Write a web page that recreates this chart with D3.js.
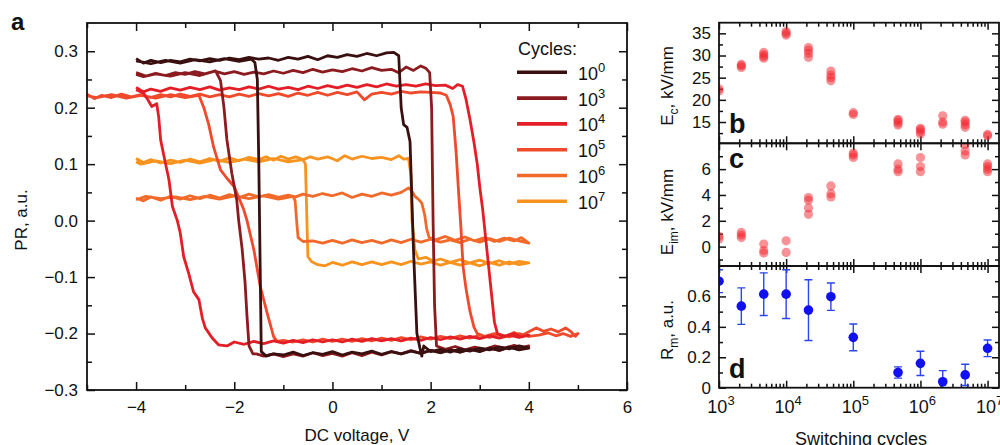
<!DOCTYPE html>
<html>
<head>
<meta charset="utf-8">
<script src="https://cdn.jsdelivr.net/npm/d3@7"></script>
<style>
body { margin: 0; background: #fff; }
text { font-family: "Liberation Sans", Arial, Helvetica, sans-serif; fill: #111; }
</style>
</head>
<body>
<svg id="chart" width="1000" height="445"></svg>
<script>
// ---- panel a: PR loops, [DC voltage, PR] ----
var loop1e0 = [[-4,0.287],[-3.85,0.279],[-3.7,0.284],[-3.5,0.28],[-3.3,0.284],[-3.1,0.281],[-2.9,0.286],[-2.7,0.283],[-2.5,0.287],[-2.3,0.284],[-2.1,0.288],[-1.9,0.285],[-1.7,0.289],[-1.5,0.286],[-1.3,0.288],[-1.1,0.284],[-0.9,0.289],[-0.7,0.286],[-0.5,0.291],[-0.3,0.285],[-0.1,0.292],[0.1,0.289],[0.3,0.294],[0.5,0.291],[0.7,0.296],[0.9,0.292],[1.1,0.297],[1.25,0.298],[1.35,0.292],
  [1.4,0.2],[1.45,0.17],[1.52,0.165],[1.58,0.14],[1.65,-0.05],[1.72,-0.2],[1.78,-0.225],[1.82,-0.24],[1.86,-0.222],
  [2.0,-0.232],[2.2,-0.228],[2.4,-0.233],[2.6,-0.227],[2.8,-0.231],[3.0,-0.226],[3.2,-0.229],[3.4,-0.224],[3.6,-0.227],[3.8,-0.222],[4,-0.226],
  [3.8,-0.229],[3.6,-0.224],[3.4,-0.23],[3.2,-0.226],[3.0,-0.232],[2.8,-0.228],[2.6,-0.233],[2.4,-0.229],[2.2,-0.234],[2.0,-0.23],[1.8,-0.235],[1.6,-0.231],[1.4,-0.236],[1.2,-0.232],[1.0,-0.237],[0.8,-0.231],[0.6,-0.236],[0.4,-0.233],[0.2,-0.238],[0.0,-0.232],[-0.2,-0.237],[-0.4,-0.234],[-0.6,-0.239],[-0.8,-0.233],[-1.0,-0.238],[-1.2,-0.236],[-1.35,-0.24],[-1.45,-0.232],
  [-1.47,-0.1],[-1.5,0.1],[-1.53,0.25],[-1.58,0.28],[-1.65,0.286],
  [-1.9,0.282],[-2.2,0.287],[-2.5,0.281],[-2.8,0.285],[-3.1,0.279],[-3.4,0.284],[-3.7,0.278],[-4,0.283]];

var loop1e3 = [[-4,0.262],[-3.8,0.256],[-3.6,0.261],[-3.4,0.257],[-3.2,0.262],[-3.0,0.259],[-2.8,0.264],[-2.6,0.26],[-2.4,0.265],[-2.2,0.26],[-2.0,0.264],[-1.8,0.259],[-1.6,0.263],[-1.4,0.26],[-1.2,0.265],[-1.0,0.261],[-0.8,0.266],[-0.6,0.262],[-0.4,0.268],[-0.2,0.263],[0,0.267],[0.2,0.264],[0.4,0.269],[0.6,0.265],[0.8,0.271],[1.0,0.266],[1.2,0.268],[1.35,0.262],[1.5,0.272],[1.65,0.266],[1.8,0.274],[1.9,0.27],[1.98,0.262],
  [2.02,0.2],[2.05,0.0],[2.08,-0.15],[2.12,-0.222],
  [2.3,-0.228],[2.5,-0.223],[2.7,-0.229],[2.9,-0.224],[3.1,-0.228],[3.3,-0.222],[3.5,-0.226],[3.7,-0.221],[3.85,-0.225],[4,-0.222],
  [3.8,-0.228],[3.6,-0.224],[3.4,-0.23],[3.2,-0.226],[3.0,-0.231],[2.8,-0.227],[2.6,-0.233],[2.4,-0.229],[2.2,-0.234],[2.0,-0.23],[1.8,-0.235],[1.6,-0.23],[1.4,-0.236],[1.2,-0.232],[1.0,-0.238],[0.8,-0.233],[0.6,-0.239],[0.4,-0.234],[0.2,-0.24],[0,-0.235],[-0.2,-0.239],[-0.4,-0.234],[-0.6,-0.24],[-0.8,-0.236],[-1.0,-0.241],[-1.2,-0.236],[-1.4,-0.24],[-1.55,-0.236],[-1.62,-0.236],
  [-1.7,-0.222],[-1.74,-0.17],[-1.78,-0.11],[-1.84,-0.05],[-1.91,0.0],[-1.95,0.037],[-2.05,0.084],[-2.15,0.143],[-2.21,0.2],[-2.28,0.248],[-2.38,0.265],
  [-2.7,0.257],[-3.0,0.262],[-3.3,0.256],[-3.6,0.26],[-3.85,0.255],[-4,0.259]];

var loop1e4 = [[-4,0.236],[-3.85,0.228],[-3.7,0.233],[-3.5,0.229],[-3.3,0.235],[-3.1,0.231],[-2.9,0.236],[-2.7,0.232],[-2.5,0.237],[-2.3,0.231],[-2.1,0.235],[-1.9,0.232],[-1.7,0.237],[-1.5,0.233],[-1.3,0.238],[-1.1,0.233],[-0.9,0.236],[-0.7,0.232],[-0.5,0.238],[-0.3,0.234],[-0.1,0.239],[0.1,0.235],[0.3,0.24],[0.5,0.236],[0.7,0.241],[0.9,0.237],[1.1,0.242],[1.3,0.238],[1.5,0.241],[1.7,0.238],[1.9,0.242],[2.1,0.239],[2.3,0.24],[2.45,0.234],[2.55,0.241],[2.65,0.238],
  [2.72,0.215],[2.8,0.18],[2.88,0.14],[2.95,0.1],[3.0,0.06],[3.06,0.02],[3.12,-0.03],[3.18,-0.08],[3.24,-0.13],[3.3,-0.18],[3.36,-0.2],
  [3.5,-0.205],[3.7,-0.2],[3.85,-0.206],[4,-0.203],
  [3.8,-0.207],[3.6,-0.203],[3.4,-0.208],[3.2,-0.204],[3.0,-0.209],[2.8,-0.205],[2.6,-0.21],[2.4,-0.206],[2.2,-0.211],[2.0,-0.207],[1.8,-0.212],[1.6,-0.208],[1.4,-0.213],[1.2,-0.209],[1.0,-0.213],[0.8,-0.209],[0.6,-0.214],[0.4,-0.21],[0.2,-0.215],[0,-0.211],[-0.2,-0.215],[-0.4,-0.211],[-0.6,-0.216],[-0.8,-0.212],[-1.0,-0.217],[-1.2,-0.213],[-1.4,-0.218],[-1.6,-0.214],[-1.8,-0.219],[-2.0,-0.215],[-2.15,-0.222],[-2.32,-0.22],
  [-2.45,-0.208],[-2.59,-0.19],[-2.65,-0.173],[-2.72,-0.14],[-2.83,-0.126],[-2.93,-0.093],[-3.03,-0.064],[-3.1,-0.022],[-3.16,0.0],[-3.26,0.025],[-3.33,0.072],[-3.43,0.113],[-3.5,0.143],[-3.54,0.184],[-3.58,0.207],[-3.68,0.202],[-3.76,0.214],[-3.85,0.226],[-4,0.232]];

var loop1e5 = [[-5,0.224],[-4.85,0.216],[-4.7,0.222],[-4.5,0.218],[-4.3,0.224],[-4.1,0.219],[-3.9,0.223],[-3.7,0.218],[-3.5,0.223],[-3.3,0.219],[-3.1,0.224],[-2.9,0.22],[-2.7,0.224],[-2.5,0.219],[-2.3,0.223],[-2.1,0.219],[-1.9,0.224],[-1.7,0.22],[-1.5,0.225],[-1.3,0.221],[-1.1,0.225],[-0.9,0.22],[-0.7,0.226],[-0.5,0.222],[-0.3,0.227],[-0.1,0.222],[0.1,0.227],[0.3,0.223],[0.5,0.228],[0.65,0.214],[0.8,0.224],[1.0,0.227],[1.2,0.224],[1.4,0.229],[1.6,0.226],[1.8,0.228],[2.0,0.227],[2.2,0.226],[2.32,0.222],
  [2.4,0.205],[2.46,0.184],[2.52,0.12],[2.57,0.05],[2.62,-0.017],[2.66,-0.081],[2.72,-0.12],[2.8,-0.16],[2.88,-0.188],[2.95,-0.2],
  [3.1,-0.205],[3.3,-0.2],[3.5,-0.206],[3.7,-0.198],[3.85,-0.204],[4.0,-0.197],[4.15,-0.19],[4.3,-0.196],[4.45,-0.192],[4.6,-0.197],[4.75,-0.19],[4.85,-0.196],[4.95,-0.205],[5.0,-0.2],
  [4.85,-0.205],[4.7,-0.2],[4.55,-0.204],[4.4,-0.199],[4.2,-0.203],[4.0,-0.205],[3.8,-0.2],[3.6,-0.206],[3.4,-0.202],[3.2,-0.207],[3.0,-0.203],[2.8,-0.208],[2.6,-0.204],[2.4,-0.209],[2.2,-0.205],[2.0,-0.21],[1.8,-0.206],[1.6,-0.211],[1.4,-0.207],[1.2,-0.212],[1.0,-0.208],[0.8,-0.213],[0.6,-0.209],[0.4,-0.214],[0.2,-0.21],[0,-0.214],[-0.2,-0.21],[-0.4,-0.215],[-0.6,-0.211],[-0.8,-0.215],[-1.0,-0.212],[-1.13,-0.214],
  [-1.2,-0.205],[-1.33,-0.164],[-1.47,-0.117],[-1.6,-0.052],[-1.74,0.0],[-1.81,0.02],[-2.0,0.06],[-2.15,0.075],[-2.28,0.09],[-2.42,0.13],[-2.52,0.17],[-2.62,0.2],[-2.72,0.222],
  [-3.0,0.218],[-3.3,0.223],[-3.6,0.217],[-3.9,0.222],[-4.2,0.217],[-4.5,0.223],[-4.8,0.218],[-5,0.221]];

var loop1e6 = [[-4,0.04],[-3.85,0.035],[-3.7,0.042],[-3.5,0.036],[-3.3,0.043],[-3.1,0.038],[-2.9,0.044],[-2.7,0.039],[-2.5,0.045],[-2.3,0.04],[-2.1,0.046],[-1.9,0.041],[-1.7,0.047],[-1.5,0.042],[-1.3,0.046],[-1.1,0.041],[-0.9,0.045],[-0.75,0.042],[-0.6,0.047],[-0.4,0.043],[-0.2,0.048],[0,0.044],[0.2,0.049],[0.4,0.041],[0.6,0.047],[0.8,0.043],[1.0,0.049],[1.2,0.045],[1.4,0.05],[1.55,0.058],[1.62,0.052],[1.68,0.043],[1.75,0.038],[1.82,0.031],[1.88,0.01],[1.92,-0.015],[1.97,-0.03],
  [2.1,-0.034],[2.3,-0.028],[2.5,-0.035],[2.7,-0.029],[2.9,-0.036],[3.1,-0.03],[3.3,-0.037],[3.5,-0.031],[3.7,-0.036],[3.85,-0.03],[4,-0.04],
  [3.8,-0.036],[3.6,-0.031],[3.4,-0.037],[3.2,-0.032],[3.0,-0.038],[2.8,-0.033],[2.6,-0.039],[2.4,-0.034],[2.2,-0.038],[2.0,-0.033],[1.8,-0.038],[1.6,-0.033],[1.4,-0.039],[1.2,-0.034],[1.0,-0.04],[0.8,-0.035],[0.6,-0.039],[0.4,-0.034],[0.2,-0.04],[0,-0.035],[-0.2,-0.04],[-0.4,-0.036],[-0.6,-0.037],[-0.7,-0.03],
  [-0.73,0.0],[-0.76,0.035],[-0.8,0.043],
  [-1.1,0.038],[-1.4,0.044],[-1.7,0.039],[-2.0,0.044],[-2.3,0.038],[-2.6,0.043],[-2.9,0.037],[-3.2,0.042],[-3.5,0.039],[-3.8,0.043],[-4,0.037]];

var loop1e7 = [[-4,0.11],[-3.85,0.103],[-3.7,0.108],[-3.5,0.102],[-3.3,0.107],[-3.1,0.103],[-2.9,0.109],[-2.7,0.104],[-2.5,0.11],[-2.3,0.105],[-2.1,0.111],[-1.9,0.106],[-1.7,0.112],[-1.5,0.108],[-1.35,0.113],[-1.2,0.107],[-1.05,0.114],[-0.9,0.109],[-0.75,0.113],[-0.6,0.108],[-0.45,0.113],[-0.3,0.109],[-0.1,0.113],[0.1,0.106],[0.25,0.115],[0.4,0.109],[0.6,0.114],[0.8,0.11],[1.0,0.112],[1.2,0.108],[1.35,0.115],[1.45,0.109],[1.55,0.11],
  [1.6,0.08],[1.62,0.0],[1.65,-0.025],[1.68,-0.052],[1.75,-0.068],
  [1.9,-0.065],[2.05,-0.072],[2.2,-0.068],[2.4,-0.074],[2.6,-0.069],[2.8,-0.075],[3.0,-0.07],[3.2,-0.076],[3.4,-0.071],[3.6,-0.077],[3.8,-0.072],[4,-0.075],
  [3.8,-0.078],[3.6,-0.073],[3.4,-0.079],[3.2,-0.074],[3.0,-0.08],[2.8,-0.075],[2.6,-0.079],[2.4,-0.074],[2.2,-0.079],[2.0,-0.073],[1.8,-0.077],[1.6,-0.072],[1.4,-0.078],[1.2,-0.073],[1.0,-0.078],[0.8,-0.073],[0.6,-0.078],[0.4,-0.073],[0.2,-0.079],[0,-0.074],[-0.15,-0.08],[-0.3,-0.078],[-0.42,-0.073],[-0.5,-0.064],
  [-0.52,0.0],[-0.55,0.1],[-0.6,0.108],
  [-0.9,0.104],[-1.2,0.11],[-1.5,0.104],[-1.8,0.109],[-2.1,0.103],[-2.4,0.108],[-2.7,0.102],[-3.0,0.107],[-3.3,0.101],[-3.6,0.106],[-3.9,0.1],[-4,0.104]];

var cycleExp = [0, 3, 4, 5, 6, 7];
var loopColors = ["#3a0f0f", "#8c1b1f", "#e31e26", "#ee4a2b", "#f26a2a", "#f7931e"];
var loops = [loop1e0, loop1e3, loop1e4, loop1e5, loop1e6, loop1e7];

var voltTicks = [-4, -2, 0, 2, 4, 6];
var prTicks = [-0.3, -0.2, -0.1, 0.0, 0.1, 0.2, 0.3];

// ---- panels b, c, d ----
var cycles = [1e3, 2.15e3, 4.64e3, 1e4, 2.15e4, 4.64e4, 1e5, 4.64e5, 1e6, 2.15e6, 4.64e6, 1e7];
var ecVals = [[22.0,22.5],[27.3,27.7,28.0],[29.4,29.8,30.2,30.7],[34.6,35.0,35.4],[29.6,30.5,31.2,31.8],[24.3,25.0,25.6,26.5],[16.7,17.1],[14.3,14.8,15.3,15.6],[12.3,12.8,13.3,13.6],[14.5,15.0,16.4],[13.8,14.4,15.0,15.4],[11.9,12.2]];
var eimVals = [[0.6,0.8],[0.7,0.9,1.1],[-0.5,-0.3,0.2],[-0.45,0.45],[2.5,3.0,3.6,3.8],[3.85,4.1,4.7],[6.9,7.1,7.25],[5.8,6.0,6.4],[5.8,6.2,6.9],[],[7.1,7.4,7.9],[5.8,6.0,6.2,6.4]];
var rmVals = [0.70, 0.536, 0.615, 0.615, 0.51, 0.598, 0.331, 0.10, 0.16, 0.039, 0.084, 0.259];
var rmErr = [0.075, 0.12, 0.14, 0.16, 0.2, 0.09, 0.088, 0.037, 0.08, 0.073, 0.07, 0.055];
var ecTicks = [15, 20, 25, 30, 35];
var eimTicks = [0, 2, 4, 6];
var rmTicks = [0, 0.2, 0.4, 0.6];
var cycleTicks = [1e3, 1e4, 1e5, 1e6, 1e7];

var svg = d3.select("#chart");
var fontSize = 17;

function frame(g, x0, y0, x1, y1) {
  g.append("rect").attr("x", x0).attr("y", y0).attr("width", x1 - x0).attr("height", y1 - y0)
    .attr("fill", "none").attr("stroke", "#111").attr("stroke-width", 1.8);
}

function ticks(g, axis, transform) {
  var a = g.append("g").attr("transform", transform).call(axis);
  a.select(".domain").remove();
  a.selectAll("line").attr("stroke", "#111").attr("stroke-width", 1.5);
  a.selectAll("text").style("font-size", fontSize + "px").attr("fill", "#111")
    .style("font-family", "'Liberation Sans', Arial, sans-serif");
  return a;
}

// ================= panel a =================
var ax = d3.scaleLinear().domain([-5, 6]).range([87, 627]);
var ay = d3.scaleLinear().domain([-0.3, 0.35]).range([390, 23]);
var ga = svg.append("g");

var voltMinor = d3.range(-5, 7).filter(function (v) { return voltTicks.indexOf(v) < 0; });
var prMinor = d3.range(-0.25, 0.35, 0.1).map(function (v) { return +v.toFixed(2); });

ticks(ga, d3.axisBottom(ax).tickValues(voltTicks).tickSize(-8).tickPadding(11).tickFormat(d3.format("d")), "translate(0,390)");
ticks(ga, d3.axisBottom(ax).tickValues(voltMinor).tickSize(-5).tickFormat(""), "translate(0,390)");
ticks(ga, d3.axisTop(ax).tickValues(voltTicks).tickSize(-8).tickFormat(""), "translate(0,23)");
ticks(ga, d3.axisTop(ax).tickValues(voltMinor).tickSize(-5).tickFormat(""), "translate(0,23)");
ticks(ga, d3.axisLeft(ay).tickValues(prTicks).tickSize(-8).tickPadding(9).tickFormat(d3.format(".1f")), "translate(87,0)");
ticks(ga, d3.axisLeft(ay).tickValues(prMinor).tickSize(-5).tickFormat(""), "translate(87,0)");
ticks(ga, d3.axisRight(ay).tickValues(prTicks).tickSize(-8).tickFormat(""), "translate(627,0)");
ticks(ga, d3.axisRight(ay).tickValues(prMinor).tickSize(-5).tickFormat(""), "translate(627,0)");

var line = d3.line().x(function (d) { return ax(d[0]); }).y(function (d) { return ay(d[1]); });
ga.append("g").selectAll("path")
  .data(loops.map(function (l, i) { return { pts: l, color: loopColors[i] }; }).reverse())
  .enter().append("path")
  .attr("d", function (d) { return line(d.pts); })
  .attr("fill", "none")
  .attr("stroke", function (d) { return d.color; })
  .attr("stroke-width", 2.8)
  .attr("stroke-linejoin", "round");

frame(ga, 87, 23, 627, 390);

// legend
var leg = ga.append("g");
leg.append("text").attr("x", 518).attr("y", 55).style("font-size", "18px").text("Cycles:");
cycleExp.forEach(function (e, i) {
  var yy = 72.3 + i * 25.8;
  leg.append("line").attr("x1", 517).attr("x2", 567).attr("y1", yy).attr("y2", yy)
    .attr("stroke", loopColors[i]).attr("stroke-width", 3.6);
  var t = leg.append("text").attr("x", 578).attr("y", yy + 7.5).style("font-size", "18px");
  t.append("tspan").text("10");
  t.append("tspan").attr("dy", -8).style("font-size", "13px").text(e);
});

ga.append("text").attr("x", 11).attr("y", 30).style("font-size", "24px").style("font-weight", "bold").text("a");
ga.append("text").attr("transform", "translate(27,220) rotate(-90)").attr("text-anchor", "middle")
  .style("font-size", fontSize + "px").text("PR, a.u.");
ga.append("text").attr("x", 357).attr("y", 441).attr("text-anchor", "middle")
  .style("font-size", fontSize + "px").text("DC voltage, V");

// ================= panels b, c, d =================
var cx = d3.scaleLog().domain([1e3, 1.48e7]).range([719, 999]);
var cycleMinor = [];
[1e3, 1e4, 1e5, 1e6, 1e7].forEach(function (p) {
  for (var k = 2; k <= 9; k++) if (p * k <= 1.48e7) cycleMinor.push(p * k);
});

var panels = [
  { y0: 22.7, y1: 143.3, dom: [10.2, 37.4], major: ecTicks, minor: [12.5, 17.5, 22.5, 27.5, 32.5, 37.5], letter: "b", letterY: 133, fmt: d3.format("d") },
  { y0: 143.3, y1: 266, dom: [-1.5, 8.0], major: eimTicks, minor: [-1, 1, 3, 5, 7], letter: "c", letterY: 168, fmt: d3.format("d") },
  { y0: 266, y1: 387.7, dom: [0, 0.8], major: rmTicks, minor: [0.1, 0.3, 0.5, 0.7], letter: "d", letterY: 378, fmt: function (v) { return v === 0 ? "0" : d3.format(".1f")(v); } }
];

panels.forEach(function (p, i) {
  var g = svg.append("g");
  var sy = d3.scaleLinear().domain(p.dom).range([p.y1, p.y0]);
  p.sy = sy;
  var minorIn = p.minor.filter(function (v) { return v > p.dom[0] && v < p.dom[1]; });
  g.append("clipPath").attr("id", "clip" + i).append("rect")
    .attr("x", 719).attr("y", p.y0).attr("width", 280).attr("height", p.y1 - p.y0);
  ticks(g, d3.axisLeft(sy).tickValues(p.major).tickSize(-7).tickPadding(8).tickFormat(p.fmt), "translate(719,0)");
  ticks(g, d3.axisLeft(sy).tickValues(minorIn).tickSize(-4).tickFormat(""), "translate(719,0)");
  ticks(g, d3.axisRight(sy).tickValues(p.major).tickSize(-7).tickFormat(""), "translate(999,0)");
  ticks(g, d3.axisRight(sy).tickValues(minorIn).tickSize(-4).tickFormat(""), "translate(999,0)");
  ticks(g, d3.axisBottom(cx).tickValues(cycleTicks).tickSize(-7).tickFormat(""), "translate(0," + p.y1 + ")");
  ticks(g, d3.axisBottom(cx).tickValues(cycleMinor).tickSize(-4).tickFormat(""), "translate(0," + p.y1 + ")");
  ticks(g, d3.axisTop(cx).tickValues(cycleTicks).tickSize(-7).tickFormat(""), "translate(0," + p.y0 + ")");
  ticks(g, d3.axisTop(cx).tickValues(cycleMinor).tickSize(-4).tickFormat(""), "translate(0," + p.y0 + ")");
  p.g = g.append("g").attr("clip-path", "url(#clip" + i + ")");
  p.frameG = g;
});

// b and c scatter
[[panels[0], ecVals], [panels[1], eimVals]].forEach(function (pair) {
  var p = pair[0], vals = pair[1];
  var pts = [];
  vals.forEach(function (arr, j) { arr.forEach(function (v) { pts.push([cycles[j], v]); }); });
  p.g.selectAll("circle").data(pts).enter().append("circle")
    .attr("cx", function (d) { return cx(d[0]); })
    .attr("cy", function (d) { return p.sy(d[1]); })
    .attr("r", 4.6)
    .attr("fill", "#f2262e")
    .attr("fill-opacity", 0.5);
});

// d with error bars
var pd = panels[2];
var rm = cycles.map(function (c, j) { return { c: c, v: rmVals[j], e: rmErr[j] }; });
var eb = pd.g.selectAll("g.eb").data(rm).enter().append("g").attr("class", "eb")
  .attr("stroke", "#2a45f0").attr("stroke-width", 1.4);
eb.append("line").attr("x1", function (d) { return cx(d.c); }).attr("x2", function (d) { return cx(d.c); })
  .attr("y1", function (d) { return pd.sy(d.v - d.e); }).attr("y2", function (d) { return pd.sy(d.v + d.e); });
eb.append("line").attr("x1", function (d) { return cx(d.c) - 4; }).attr("x2", function (d) { return cx(d.c) + 4; })
  .attr("y1", function (d) { return pd.sy(d.v + d.e); }).attr("y2", function (d) { return pd.sy(d.v + d.e); });
eb.append("line").attr("x1", function (d) { return cx(d.c) - 4; }).attr("x2", function (d) { return cx(d.c) + 4; })
  .attr("y1", function (d) { return pd.sy(d.v - d.e); }).attr("y2", function (d) { return pd.sy(d.v - d.e); });
pd.g.selectAll("circle").data(rm).enter().append("circle")
  .attr("cx", function (d) { return cx(d.c); })
  .attr("cy", function (d) { return pd.sy(d.v); })
  .attr("r", 4.8).attr("fill", "#1010f0");

panels.forEach(function (p) {
  frame(p.frameG, 719, p.y0, 999, p.y1);
  p.frameG.append("text").attr("x", 729).attr("y", p.letterY)
    .style("font-size", "27px").style("font-weight", "bold").text(p.letter);
});

// x labels for log axis
var xl = svg.append("g").selectAll("text").data(cycleTicks).enter().append("text")
  .attr("x", function (d) { return cx(d) + 2; })
  .attr("y", 413)
  .attr("text-anchor", "middle")
  .style("font-size", "18px");
xl.append("tspan").text("10");
xl.append("tspan").attr("dy", -8).style("font-size", "13px").text(function (d) { return Math.round(Math.log10(d)); });

svg.append("text").attr("x", 861).attr("y", 445).attr("text-anchor", "middle")
  .style("font-size", "18px").text("Switching cycles");

// y labels with subscripts
function yLabel(cy, main, sub, rest) {
  var t = svg.append("text").attr("transform", "translate(673," + cy + ") rotate(-90)")
    .attr("text-anchor", "middle").style("font-size", fontSize + "px");
  t.append("tspan").text(main);
  t.append("tspan").attr("dy", 5).style("font-size", "12px").text(sub);
  t.append("tspan").attr("dy", -5).text(rest);
}
yLabel(86, "E", "c", ", kV/mm");
yLabel(212, "E", "im", ", kV/mm");
yLabel(330, "R", "m", ", a.u.");
</script>
</body>
</html>
